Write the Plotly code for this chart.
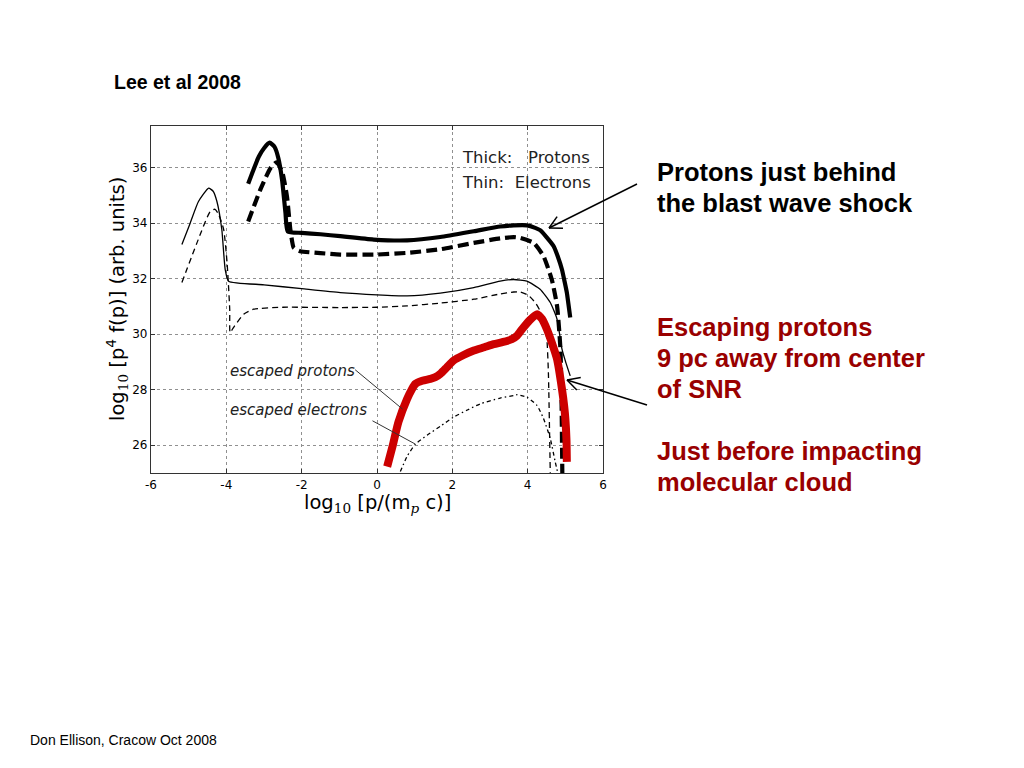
import numpy as np
import plotly.graph_objects as go

# ---------------- data ----------------
shock_p_solid_x = [-3.42, -3.3, -3.14, -3.0, -2.85, -2.72, -2.62, -2.52, -2.43, -2.37,
                   -2.0, -1.5, -0.975, -0.09, 0.8, 1.68, 2.57, 3.27, 3.63, 3.98, 4.2,
                   4.33, 4.5, 4.69, 4.8, 4.91, 4.98, 5.04, 5.13]
shock_p_solid_y = [35.42, 35.85, 36.39, 36.7, 36.9, 36.75, 36.35, 35.56, 34.37, 33.7,
                   33.65, 33.6, 33.53, 33.41, 33.38, 33.5, 33.71, 33.88, 33.92, 33.92, 33.83,
                   33.75, 33.5, 33.17, 32.8, 32.33, 31.9, 31.5, 30.6]

shock_p_dash_x = [-3.42, -3.1, -2.83, -2.67, -2.52, -2.39, -2.3, -2.21, -2.04, -1.5,
                  -0.975, 0.0, 0.8, 1.68, 2.57, 3.27, 3.63, 3.8, 4.16, 4.42, 4.64,
                  4.78, 4.87, 4.9, 4.92]
shock_p_dash_y = [34.06, 35.2, 35.98, 36.19, 35.86, 34.96, 33.77, 33.11, 32.99, 32.92,
                  32.87, 32.87, 32.93, 33.06, 33.29, 33.45, 33.5, 33.47, 33.29, 32.81, 31.97,
                  31.02, 29.47, 27.5, 25.0]

shock_e_solid_x = [-5.18, -4.96, -4.74, -4.47, -4.35, -4.25, -4.12, -4.03, -3.94, -3.0,
                   -2.0, -0.975, 0.0, 0.8, 1.68, 2.57, 3.27, 3.63, 3.98, 4.33, 4.6,
                   4.78, 4.91, 5.02, 5.13]
shock_e_solid_y = [33.23, 34.0, 34.78, 35.26, 35.15, 34.78, 33.77, 32.33, 31.91, 31.78,
                   31.64, 31.5, 31.42, 31.38, 31.48, 31.68, 31.91, 31.97, 31.91, 31.62, 31.14,
                   30.54, 29.47, 28.95, 28.5]

shock_e_dash_x = [-5.18, -4.78, -4.43, -4.3, -4.2, -4.07, -3.98, -3.91, -3.9, -3.81,
                  -3.54, -3.28, -2.5, -1.0, 0.0, 0.8, 1.68, 2.57, 3.27, 3.63, 3.8,
                  4.02, 4.2, 4.33, 4.45, 4.51, 4.55, 4.6]
shock_e_dash_y = [31.86, 33.29, 34.42, 34.5, 34.3, 33.77, 32.57, 30.9, 30.06, 30.24,
                  30.72, 30.9, 30.97, 30.96, 30.97, 31.02, 31.12, 31.26, 31.45, 31.52, 31.52,
                  31.4, 31.14, 30.84, 30.3, 29.82, 28.63, 25.0]

esc_p_x = [0.27, 0.42, 0.57, 0.8, 0.92, 1.02, 1.2, 1.41, 1.55, 1.68, 1.85, 2.03, 2.3,
           2.57, 2.85, 3.1, 3.35, 3.58, 3.72, 3.85, 4.05, 4.25, 4.38, 4.51, 4.64, 4.78,
           4.91, 4.97, 5.0, 5.03, 5.04]
esc_p_y = [25.23, 26.0, 26.84, 27.67, 28.0, 28.21, 28.32, 28.39, 28.45, 28.57, 28.8, 29.05,
           29.25, 29.41, 29.53, 29.64, 29.72, 29.82, 29.95, 30.18, 30.5, 30.72, 30.55, 30.18,
           29.7, 29.1, 28.03, 27.4, 26.96, 26.2, 25.4]

esc_e_x = [0.62, 0.8, 1.02, 1.33, 1.7, 2.03, 2.4, 2.74, 3.27, 3.63, 3.72, 3.98, 4.25,
           4.42, 4.6, 4.73, 4.8]
esc_e_y = [25.05, 25.6, 26.04, 26.36, 26.7, 27.01, 27.27, 27.49, 27.7, 27.79, 27.82, 27.73,
           27.43, 26.96, 26.24, 25.41, 25.0]

x_tick_vals = [-6, -4, -2, 0, 2, 4, 6]
x_tick_text = ["-6", "-4", "-2", "0", "2", "4", "6"]
y_tick_vals = [26, 28, 30, 32, 34, 36]
y_tick_text = ["26", "28", "30", "32", "34", "36"]

right_black_lines = ["Protons just behind", "the blast wave shock"]
right_red_lines = ["Escaping protons", "9 pc away from center", "of SNR", "",
                   "Just before impacting", "molecular cloud"]

# ---------------- layout geometry ----------------
# the page body has an 8px margin; positions below are given in page pixels
OFF = 8
W, H = 1024 - 2 * OFF, 768 - 2 * OFF
L, R, T, B = 151 - OFF, 603 - OFF, 126 - OFF, 473 - OFF


def px(xp):
    return (xp - OFF - L) / (R - L)


def py(yp):
    return (B - (yp - OFF)) / (B - T)


fig = go.Figure()

fig.add_trace(go.Scatter(x=shock_e_solid_x, y=shock_e_solid_y, mode="lines",
                         line=dict(color="black", width=1.3, shape="spline", smoothing=0.5)))
fig.add_trace(go.Scatter(x=shock_e_dash_x, y=shock_e_dash_y, mode="lines",
                         line=dict(color="black", width=1.3, dash="6px,4px",
                                   shape="spline", smoothing=0.5)))
fig.add_trace(go.Scatter(x=esc_e_x, y=esc_e_y, mode="lines",
                         line=dict(color="black", width=1.3, dash="4px,3px,1.5px,3px",
                                   shape="spline", smoothing=0.6)))
fig.add_trace(go.Scatter(x=shock_p_dash_x, y=shock_p_dash_y, mode="lines",
                         line=dict(color="black", width=4.2, dash="11px,5px",
                                   shape="spline", smoothing=0.5)))
fig.add_trace(go.Scatter(x=shock_p_solid_x, y=shock_p_solid_y, mode="lines",
                         line=dict(color="black", width=4.2, shape="spline", smoothing=0.5)))
fig.add_trace(go.Scatter(x=esc_p_x, y=esc_p_y, mode="lines",
                         line=dict(color="#cc0000", width=8, shape="spline", smoothing=0.6)))

axis_common = dict(showline=True, linecolor="#333", linewidth=1.2, mirror="ticks",
                   ticks="inside", ticklen=4, tickcolor="#333", showgrid=True,
                   gridcolor="#909090", griddash="dot", gridwidth=1, zeroline=False,
                   tickfont=dict(family="DejaVu Sans", size=12, color="black"))

fig.update_layout(
    width=W, height=H,
    margin=dict(l=L, r=W - R, t=T, b=H - B, pad=0),
    paper_bgcolor="white", plot_bgcolor="white",
    showlegend=False,
    xaxis=dict(range=[-6, 6], tickvals=x_tick_vals, ticktext=x_tick_text, **axis_common),
    yaxis=dict(range=[25, 37.5], tickvals=y_tick_vals, ticktext=y_tick_text, **axis_common),
)

serif = "font-family:'DejaVu Serif'"
annotations = []
# axis titles
annotations.append(dict(
    x=px(117), y=py(299), xref="paper", yref="paper", textangle=-90,
    text=f"log<sub><span style=\"{serif}\">10</span></sub> [p<sup>4</sup> f(p)] (arb. units)",
    showarrow=False, font=dict(family="DejaVu Sans", size=19.5, color="black"),
    xanchor="center", yanchor="middle"))
annotations.append(dict(
    x=px(377), y=py(503), xref="paper", yref="paper",
    text=f"log<sub><span style=\"{serif}\">10</span></sub> [p/(m<sub><i><span style=\"{serif}\">p</span></i></sub> c)]",
    showarrow=False, font=dict(family="DejaVu Sans", size=19.5, color="black"),
    xanchor="center", yanchor="middle"))
# in-plot legend text
annotations.append(dict(x=px(460), y=py(157), xref="paper", yref="paper",
                        text="Thick:   Protons", showarrow=False, xanchor="left",
                        yanchor="middle", font=dict(family="DejaVu Sans", size=16.5, color="#222")))
annotations.append(dict(x=px(460), y=py(182), xref="paper", yref="paper",
                        text="Thin:  Electrons", showarrow=False, xanchor="left",
                        yanchor="middle", font=dict(family="DejaVu Sans", size=16.5, color="#222")))
annotations.append(dict(x=px(228), y=py(371), xref="paper", yref="paper",
                        text="<i>escaped protons</i>", showarrow=False, xanchor="left",
                        yanchor="middle", font=dict(family="DejaVu Sans", size=15, color="#222")))
annotations.append(dict(x=px(228), y=py(410), xref="paper", yref="paper",
                        text="<i>escaped electrons</i>", showarrow=False, xanchor="left",
                        yanchor="middle", font=dict(family="DejaVu Sans", size=15, color="#222")))
# slide texts
annotations.append(dict(x=px(112), y=py(82), xref="paper", yref="paper",
                        text="<b>Lee et al 2008</b>", showarrow=False, xanchor="left",
                        yanchor="middle", font=dict(family="Liberation Sans", size=19.5, color="black")))
annotations.append(dict(x=px(28), y=py(740), xref="paper", yref="paper",
                        text="Don Ellison, Cracow Oct 2008", showarrow=False, xanchor="left",
                        yanchor="middle", font=dict(family="Liberation Sans", size=14, color="black")))
for i, line in enumerate(right_black_lines):
    annotations.append(dict(x=px(655), y=py(172 + 31 * i), xref="paper", yref="paper",
                            text=f"<b>{line}</b>", showarrow=False, xanchor="left",
                            yanchor="middle",
                            font=dict(family="Liberation Sans", size=25.5, color="black")))
for i, line in enumerate(right_red_lines):
    if not line:
        continue
    annotations.append(dict(x=px(655), y=py(327 + 31 * i), xref="paper", yref="paper",
                            text=f"<b>{line}</b>", showarrow=False, xanchor="left",
                            yanchor="middle",
                            font=dict(family="Liberation Sans", size=25.5, color="#990000")))
fig.update_layout(annotations=annotations)

# leader lines for escaped labels (data coords)
shapes = [
    dict(type="line", xref="x", yref="y", x0=-0.58, y0=28.72, x1=0.68, y1=27.3,
         line=dict(color="#333", width=1)),
    dict(type="line", xref="x", yref="y", x0=-0.12, y0=26.88, x1=1.02, y1=26.04,
         line=dict(color="#333", width=1)),
]


def arrow(tail, tip, head_len=14, ang=28):
    t = np.array(tail, float)
    h = np.array(tip, float)
    d = (t - h) / np.linalg.norm(t - h)
    out = [dict(type="line", xref="paper", yref="paper",
                x0=px(t[0]), y0=py(t[1]), x1=px(h[0]), y1=py(h[1]),
                line=dict(color="black", width=1.5))]
    for s in (1, -1):
        a = np.deg2rad(ang * s)
        rot = np.array([[np.cos(a), -np.sin(a)], [np.sin(a), np.cos(a)]])
        e = h + head_len * rot @ d
        out.append(dict(type="line", xref="paper", yref="paper",
                        x0=px(h[0]), y0=py(h[1]), x1=px(e[0]), y1=py(e[1]),
                        line=dict(color="black", width=1.5)))
    return out


shapes += arrow((637, 184), (549, 228))
shapes += arrow((647, 405), (567, 380))
fig.update_layout(shapes=shapes)

fig.write_html("out.html")
